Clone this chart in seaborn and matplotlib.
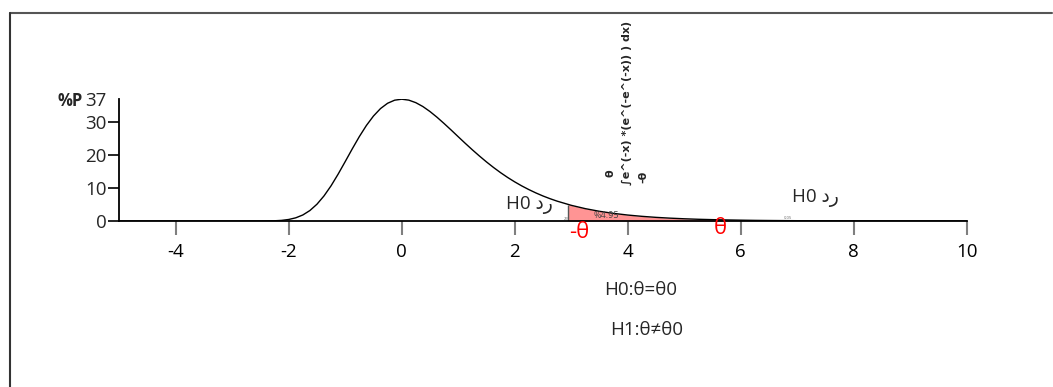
import matplotlib
matplotlib.use("Agg")
import matplotlib.pyplot as plt
import seaborn as sns
import pandas as pd
from matplotlib.lines import Line2D

# ---- data ----
x_vals = [-5, -4, -3, -2.5, -2.25, -2.125, -2, -1.875, -1.75, -1.625, -1.5, -1.375,
          -1.25, -1.125, -1, -0.875, -0.75, -0.625, -0.5, -0.375, -0.25, -0.125,
          0, 0.125, 0.25, 0.375, 0.5, 0.625, 0.75, 0.875, 1, 1.125, 1.25, 1.375,
          1.5, 1.625, 1.75, 1.875, 2, 2.125, 2.25, 2.375, 2.5, 2.625, 2.75, 3, 3.25,
          3.5, 3.75, 4, 4.25, 4.5, 4.75, 5, 5.25, 5.5, 5.75, 6, 6.25, 6.5, 6.75,
          7, 7.5, 8, 9, 10]
p_vals = [0, 0, 0, 0.01, 0.07, 0.19, 0.46, 0.96, 1.82, 3.16, 5.07, 7.58,
          10.64, 14.16, 17.94, 21.79, 25.49, 28.85, 31.70, 33.96, 35.56, 36.49,
          36.79, 36.51, 35.74, 34.57, 33.07, 31.34, 29.45, 27.48, 25.46, 23.46, 21.51, 19.64,
          17.85, 16.17, 14.60, 13.15, 11.82, 10.60, 9.49, 8.48, 7.56, 6.74, 6.00, 4.74, 3.73,
          2.93, 2.30, 1.80, 1.41, 1.10, 0.86, 0.67, 0.52, 0.41, 0.32, 0.25, 0.19, 0.15, 0.12,
          0.09, 0.06, 0.03, 0.01, 0.00]
shade_x = [2.95, 3, 3.25, 3.5, 3.75, 4, 4.25, 4.5, 4.75, 5, 5.25, 5.5, 5.7]
shade_y = [4.97, 4.74, 3.73, 2.93, 2.30, 1.80, 1.41, 1.10, 0.86, 0.67, 0.52, 0.41, 0.33]
x_ticks = [-4, -2, 0, 2, 4, 6, 8, 10]
y_ticks = [0, 10, 20, 30, 37]
y_tick_labels = ["0", "10", "20", "30", "37"]
reject_word = "رد"
area_label = "%4.95"

sns.set_theme(style="white")
plt.rcParams['font.family'] = ['Open Sans', 'DejaVu Sans']

fig = plt.figure(figsize=(10.53, 3.87), dpi=100)
ax = fig.add_axes([119.2 / 1053, (387 - 221) / 387, 847.5 / 1053, 122.5 / 387])

df = pd.DataFrame({"x": x_vals, "p": p_vals})
ax.fill_between(shade_x, 0, shade_y, color="#ff9494", linewidth=0, zorder=1)
ax.vlines(shade_x[0], 0, shade_y[0], color="#555555", linewidth=1.0, zorder=2)
sns.lineplot(data=df, x="x", y="p", color="black", linewidth=1.0, ax=ax, zorder=3)

ax.set_xlim(-5, 10)
ax.set_ylim(0, 37)
ax.set_xticks(x_ticks)
ax.set_xticklabels([str(t) for t in x_ticks])
ax.set_yticks(y_ticks)
ax.set_yticklabels(y_tick_labels)
ax.set_xlabel("")
ax.set_ylabel("")
for s in ["top", "right"]:
    ax.spines[s].set_visible(False)
for s in ["left", "bottom"]:
    ax.spines[s].set_visible(True)
    ax.spines[s].set_color("black")
    ax.spines[s].set_linewidth(1.3)
ax.tick_params(axis="x", direction="out", length=10, width=1.5, color="#7f7f7f",
               labelsize=13.5, pad=6, bottom=True, labelcolor="black")
ax.tick_params(axis="y", direction="out", length=8, width=1.2, color="black",
               labelsize=13.5, pad=1, left=True)
ax.yaxis.get_major_ticks()[-1].tick1line.set_visible(False)

# %P label
fig.text(83 / 1053, 1 - 101 / 387, "%P", fontsize=12, fontweight="bold",
         ha="right", va="center")

# annotations
disp_reject = "H0 " + reject_word[::-1]
fig.text(529 / 1053, 1 - 205 / 387, disp_reject, fontsize=13.5, ha="center",
         va="center", family=['Open Sans', 'DejaVu Sans'])
fig.text(815 / 1053, 1 - 198 / 387, disp_reject, fontsize=13.5, ha="center",
         va="center", family=['Open Sans', 'DejaVu Sans'])
fig.text(606 / 1053, 1 - 216 / 387, area_label, fontsize=6.5, ha="center",
         va="center", color="#444444")
fig.text(567 / 1053, 1 - 219 / 387, "2%", fontsize=3, ha="center",
         va="center", color="#666666")
fig.text(788 / 1053, 1 - 218 / 387, "0.05", fontsize=3, ha="center",
         va="center", color="#666666")
fig.text(579 / 1053, 1 - 233 / 387, "-θ", fontsize=16, ha="center",
         va="center", color="red")
fig.text(720 / 1053, 1 - 229 / 387, "θ", fontsize=16, ha="center",
         va="center", color="red")

# rotated integral
fig.text(627 / 1053, 1 - 185 / 387, "∫e^(-x) *(e^(-e^(-x)) ) dx)", fontsize=8,
         fontweight="bold", rotation=90, ha="center", va="bottom",
         family=['DejaVu Sans'])
fig.text(610 / 1053, 1 - 173 / 387, "θ", fontsize=8, fontweight="bold",
         rotation=90, ha="center", va="center", family=['DejaVu Sans'])
fig.text(643 / 1053, 1 - 177 / 387, "-θ", fontsize=8, fontweight="bold",
         rotation=90, ha="center", va="center", family=['DejaVu Sans'])

# hypotheses
fig.text(641 / 1053, 1 - 290 / 387, "H0:θ=θ0", fontsize=13.5, ha="center", va="center")
fig.text(647 / 1053, 1 - 330 / 387, "H1:θ≠θ0", fontsize=13.5, ha="center", va="center")

# frame lines
fig.add_artist(Line2D([10 / 1053, 1052 / 1053], [1 - 13 / 387, 1 - 13 / 387],
                      color="#555555", linewidth=1.5, transform=fig.transFigure))
fig.add_artist(Line2D([10 / 1053, 10 / 1053], [1 - 13 / 387, 0],
                      color="#333333", linewidth=1.5, transform=fig.transFigure))

fig.savefig("out.png", dpi=100)
